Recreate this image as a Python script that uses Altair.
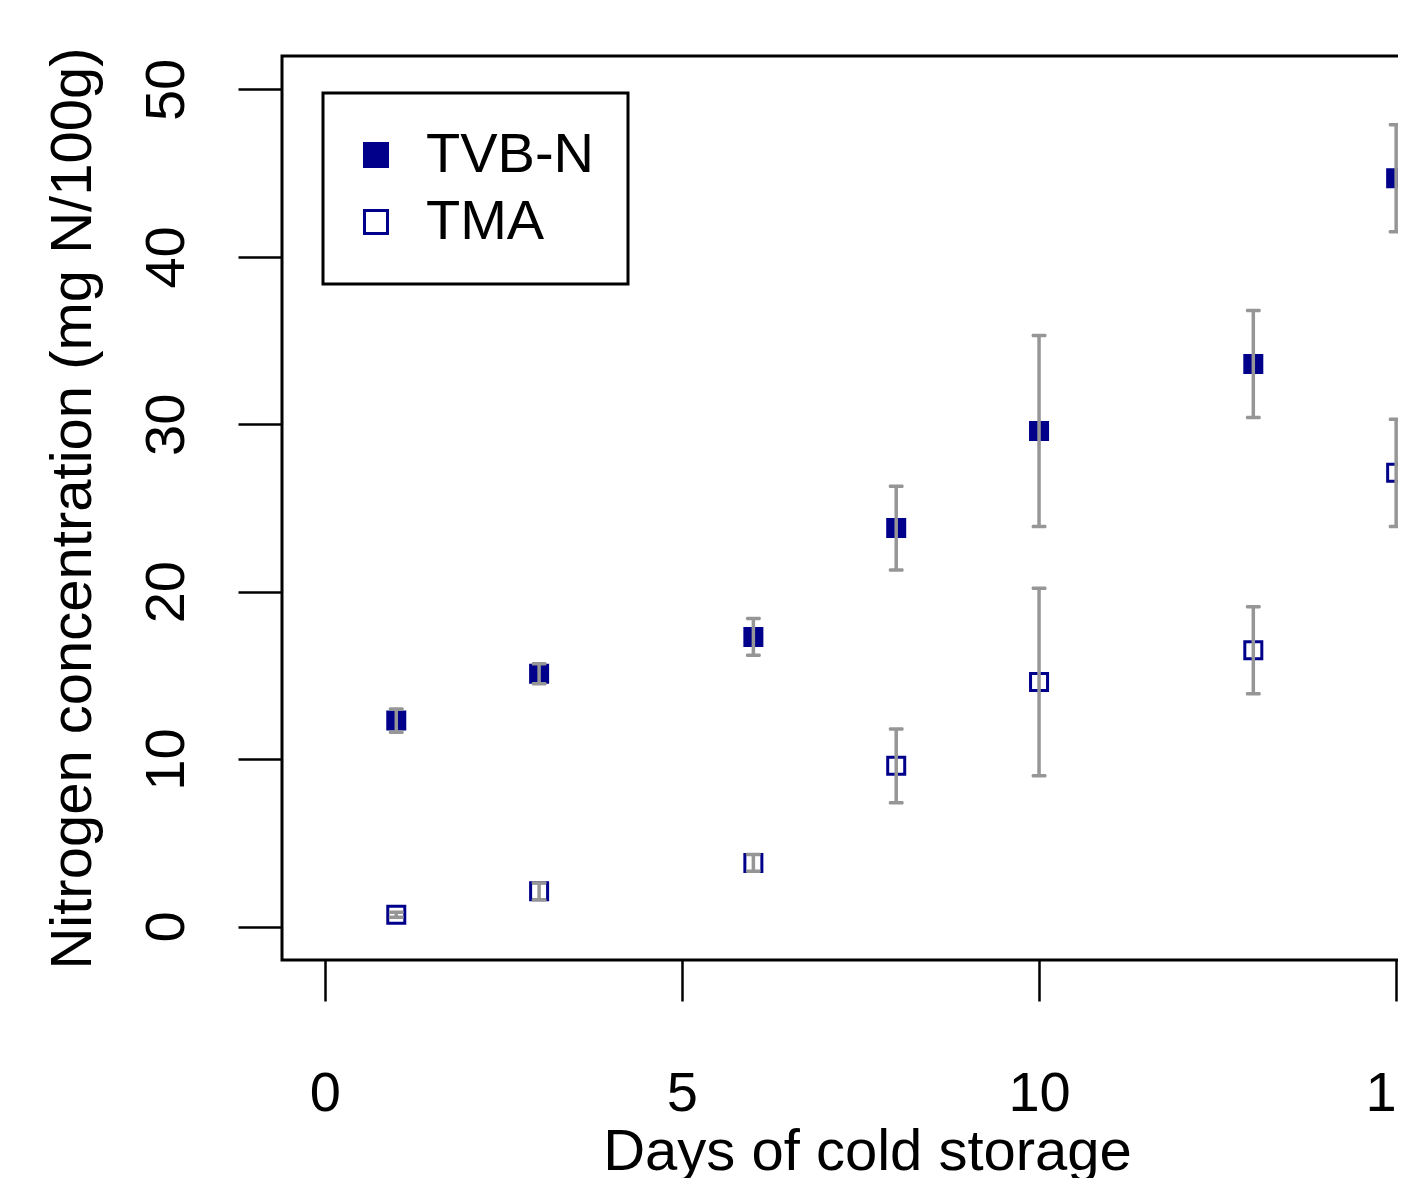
import altair as alt
import pandas as pd

# ---- data ----
days = [1, 3, 6, 8, 10, 13, 15]
tvbn_mean = [12.3, 15.1, 17.3, 23.8, 29.6, 33.6, 44.7]
tvbn_sd = [0.7, 0.6, 1.1, 2.5, 5.7, 3.2, 3.2]
tma_mean = [0.7, 2.1, 3.8, 9.6, 14.6, 16.5, 27.1]
tma_sd = [0.15, 0.5, 0.5, 2.2, 5.6, 2.6, 3.2]
series = ["TVB-N", "TMA"]
x_ticks = [0, 5, 10, 15]
y_ticks = [0, 10, 20, 30, 40, 50]

rows = []
for name, means, sds in [(series[0], tvbn_mean, tvbn_sd), (series[1], tma_mean, tma_sd)]:
    for d, m, s in zip(days, means, sds):
        rows.append({"day": d, "value": m, "lo": m - s, "hi": m + s, "series": name})
df = pd.DataFrame(rows)
caps = df.melt(id_vars=["day", "series"], value_vars=["lo", "hi"], value_name="cap")

FONT = "Liberation Sans"
NAVY = "#00008B"
GRAY = "#969696"
W, H = 1157, 904

x_scale = alt.Scale(domain=[-0.6, 15.6], nice=False, zero=False)
y_scale = alt.Scale(domain=[-2, 52], nice=False, zero=False)

x_axis = alt.Axis(
    values=x_ticks, format="d", grid=False, domain=False,
    tickSize=41, tickWidth=2.5, tickColor="black",
    labelFont=FONT, labelFontSize=56, labelColor="black",
    labelPadding=109, labelBaseline="alphabetic", labelAlign="center",
    labelFlush=False, labelOverlap=False,
    title="Days of cold storage", titleFont=FONT, titleFontSize=58,
    titleFontWeight="normal", titleColor="black",
    titleX=585, titleY=209, titleAlign="center", titleBaseline="alphabetic",
)
y_axis = alt.Axis(
    values=y_ticks, format="d", grid=False, domain=False,
    tickSize=44, tickWidth=2.5, tickColor="black",
    labelFont=FONT, labelFontSize=56, labelColor="black",
    labelAngle=270, labelPadding=55, labelBaseline="alphabetic", labelAlign="center",
    labelFlush=False, labelOverlap=False,
    title="Nitrogen concentration (mg N/100g)", titleFont=FONT, titleFontSize=58,
    titleFontWeight="normal", titleColor="black", titleAngle=270,
    titleX=-192, titleY=452, titleAlign="center", titleBaseline="alphabetic",
)

legend = alt.Legend(
    title=None, orient="none", legendX=41, legendY=37, direction="vertical",
    symbolType="square", symbolSize=530, symbolStrokeWidth=3,
    symbolStrokeColor=NAVY, symbolOpacity=1, symbolOffset=-9,
    labelFont=FONT, labelFontSize=56, labelColor="black", labelLimit=500,
    labelOffset=22, padding=34, rowPadding=11, strokeColor="black",
)

points = alt.Chart(df).mark_point(
    shape="square", filled=True, size=289, stroke=NAVY, strokeWidth=3, opacity=1
).encode(
    x=alt.X("day:Q", scale=x_scale, axis=x_axis),
    y=alt.Y("value:Q", scale=y_scale, axis=y_axis),
    fill=alt.Fill("series:N", scale=alt.Scale(domain=series, range=[NAVY, "white"]), legend=legend),
)

rules = alt.Chart(df).mark_rule(color=GRAY, strokeWidth=3.5).encode(
    x=alt.X("day:Q", scale=x_scale),
    y=alt.Y("lo:Q", scale=y_scale),
    y2="hi:Q",
)

ticks = alt.Chart(caps).mark_tick(
    orient="horizontal", size=15, thickness=3.5, color=GRAY, opacity=1, cornerRadius=1.5
).encode(
    x=alt.X("day:Q", scale=x_scale),
    y=alt.Y("cap:Q", scale=y_scale),
)

chart = alt.layer(points, rules, ticks).properties(
    width=W, height=H,
    padding={"left": 274, "top": 48, "right": -41, "bottom": 218},
    autosize=alt.AutoSizeParams(type="none"),
).configure_view(
    stroke="black", strokeWidth=3
).configure_legend(
    strokeWidth=3
)

chart.save("out.html", embed_options={"renderer": "svg", "actions": False})
